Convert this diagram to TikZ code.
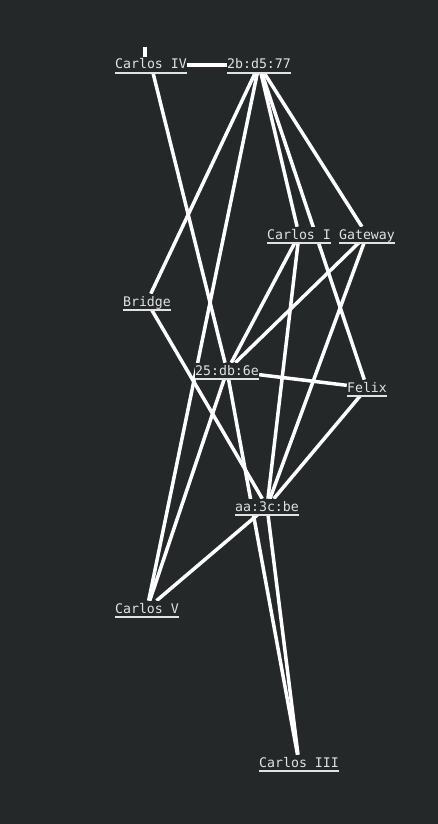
\documentclass[tikz,border=0pt]{standalone}
\usepackage{fontspec}
\setmonofont{DejaVu Sans Mono}
\usetikzlibrary{positioning}

\definecolor{bgdark}{RGB}{36,40,41}
\definecolor{labelgray}{RGB}{226,226,226}

\pgfdeclarelayer{back}
\pgfdeclarelayer{wires}
\pgfsetlayers{back,wires,main}

\begin{document}
\begin{tikzpicture}[x=0.02cm, y=-0.02cm,
  host/.style={anchor=base, inner sep=0pt, fill=bgdark, text=labelgray,
    font=\ttfamily\fontsize{7.53}{9}\selectfont, text height=6.8pt, text depth=2pt,
    append after command={(\tikzlastnode.south west) edge[labelgray, line width=0.8pt] (\tikzlastnode.south east)}},
  link/.style={white, line width=2pt}]

\useasboundingbox (0,0) rectangle (438,824);
\begin{pgfonlayer}{back}
\fill[bgdark] (0,0) rectangle (438,824);
\end{pgfonlayer}

\node[host] (civ) at (151,69) {Carlos IV};
\node[host] (b77) at (259,69) {2b:d5:77};
\node[host] (ci) at (299,239) {Carlos I};
\node[host] (gw) at (367,239) {Gateway};
\node[host] (br) at (147,306) {Bridge};
\node[host] (d6e) at (227,375) {25:db:6e};
\node[host] (fx) at (367,392) {Felix};
\node[host] (cbe) at (267,511) {aa:3c:be};
\node[host] (cv) at (147,613) {Carlos V};
\node[host] (ciii) at (299,767) {Carlos III};

\coordinate (civtick) at (145,47);

\begin{pgfonlayer}{wires}
\draw[link] (civtick) -- (civtick |- civ.north);
\draw[link] (civ) -- (b77);
\draw[link] (civ) -- (d6e);

\draw[link] (b77) -- (br);
\draw[link] (b77) -- (cv);
\draw[link] (b77) -- (ci);
\draw[link] (b77) -- (fx);
\draw[link] (b77) -- (gw);

\draw[link] (ci) -- (d6e);
\draw[link] (ci) -- (cbe);
\draw[link] (gw) -- (d6e);
\draw[link] (gw) -- (cbe);

\draw[link] (br) -- (cbe);

\draw[link] (d6e) -- (fx);
\draw[link] (d6e) -- (cv);
\draw[link] (d6e) -- (ciii);
\draw[link] (fx) -- (cbe);

\draw[link] (cbe) -- (cv);
\draw[link] (cbe) -- (ciii);
\end{pgfonlayer}
\end{tikzpicture}
\end{document}
